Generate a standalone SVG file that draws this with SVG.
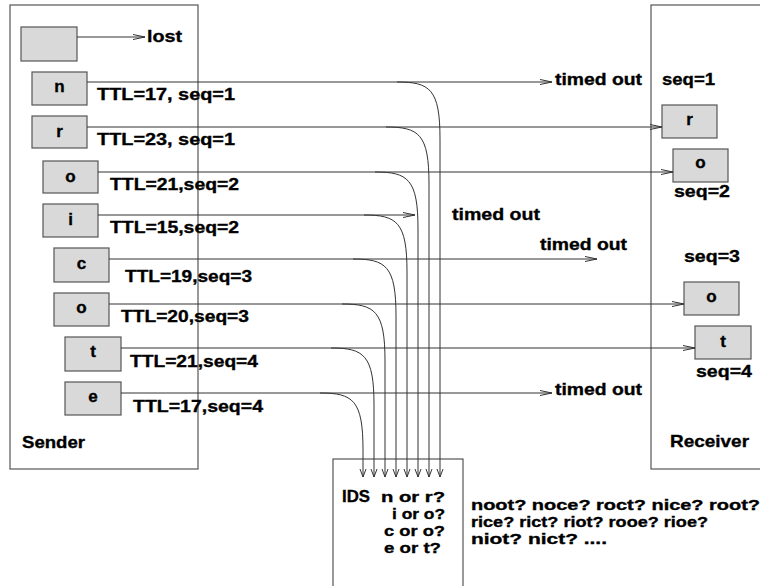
<svg xmlns="http://www.w3.org/2000/svg" width="760" height="586" viewBox="0 0 760 586">
<style>
text{font-family:"Liberation Sans",Arial,sans-serif;font-weight:bold;font-size:17px;fill:#000;stroke:#000;stroke-width:0.35}
.sm{font-size:15px}
.frame{fill:none;stroke:#555;stroke-width:1.2}
.pkt{fill:#d9d9d9;stroke:#555;stroke-width:1.2}
.c{text-anchor:middle}
.ln{fill:none;stroke:#333;stroke-width:1}
.h{marker-end:url(#arr)}
.v{marker-end:url(#arrv)}
</style>
<defs>
<marker id="arr" viewBox="0 0 12 8" refX="12" refY="4" markerWidth="12" markerHeight="8" markerUnits="userSpaceOnUse" orient="auto">
<path d="M0,1.5 L12,4 L0,6.5" fill="none" stroke="#333" stroke-width="1"/>
</marker>
<marker id="arrv" viewBox="0 0 8 8" refX="8" refY="4" markerWidth="8" markerHeight="8" markerUnits="userSpaceOnUse" orient="auto">
<path d="M0,1 L8,4 L0,7" fill="none" stroke="#333" stroke-width="1"/>
</marker>
</defs>

<g id="sender">
<rect class="frame" x="10" y="5" width="188" height="464"/>
<text x="22" y="448" textLength="63" lengthAdjust="spacingAndGlyphs">Sender</text>
</g>
<g id="receiver">
<rect class="frame" x="651" y="5" width="130" height="464"/>
<text x="670" y="447" textLength="79" lengthAdjust="spacingAndGlyphs">Receiver</text>
<text x="662" y="85" textLength="53" lengthAdjust="spacingAndGlyphs">seq=1</text>
<text x="674" y="197" textLength="56" lengthAdjust="spacingAndGlyphs">seq=2</text>
<text x="684" y="262" textLength="56" lengthAdjust="spacingAndGlyphs">seq=3</text>
<text x="696" y="377" textLength="56" lengthAdjust="spacingAndGlyphs">seq=4</text>
</g>
<g id="ids">
<rect class="frame" x="333" y="459" width="130" height="140"/>
<text x="342" y="502" textLength="28" lengthAdjust="spacingAndGlyphs">IDS</text>
<text class="sm" x="381" y="502" textLength="64" lengthAdjust="spacingAndGlyphs">n or r?</text>
<text class="sm" x="392" y="519" textLength="53" lengthAdjust="spacingAndGlyphs">i or o?</text>
<text class="sm" x="384" y="536" textLength="61" lengthAdjust="spacingAndGlyphs">c or o?</text>
<text class="sm" x="384" y="553" textLength="57" lengthAdjust="spacingAndGlyphs">e or t?</text>
</g>
<g id="guesses">
<text class="sm" x="471" y="510" textLength="289" lengthAdjust="spacingAndGlyphs">noot? noce? roct? nice? root?</text>
<text class="sm" x="471" y="527" textLength="237" lengthAdjust="spacingAndGlyphs">rice? rict? riot? rooe? rioe?</text>
<text class="sm" x="471" y="544" textLength="136" lengthAdjust="spacingAndGlyphs">niot? nict? ....</text>
</g>

<g id="pkt-lost"><rect class="pkt" x="21" y="27" width="56" height="34"/></g>
<g id="pkt-n"><rect class="pkt" x="32" y="72" width="55" height="33"/><text class="c" x="59.5" y="92">n</text>
<text x="97" y="100" textLength="138" lengthAdjust="spacingAndGlyphs">TTL=17, seq=1</text></g>
<g id="pkt-r"><rect class="pkt" x="32" y="116" width="55" height="32"/><text class="c" x="59.5" y="137">r</text>
<text x="97" y="145" textLength="138" lengthAdjust="spacingAndGlyphs">TTL=23, seq=1</text></g>
<g id="pkt-o1"><rect class="pkt" x="43" y="161" width="55" height="32"/><text class="c" x="70.5" y="182">o</text>
<text x="110" y="190" textLength="129" lengthAdjust="spacingAndGlyphs">TTL=21,seq=2</text></g>
<g id="pkt-i"><rect class="pkt" x="43" y="204" width="55" height="33"/><text class="c" x="70.5" y="225">i</text>
<text x="110" y="233" textLength="129" lengthAdjust="spacingAndGlyphs">TTL=15,seq=2</text></g>
<g id="pkt-c"><rect class="pkt" x="54" y="248" width="55" height="34"/><text class="c" x="81.5" y="269">c</text>
<text x="125" y="282" textLength="127" lengthAdjust="spacingAndGlyphs">TTL=19,seq=3</text></g>
<g id="pkt-o2"><rect class="pkt" x="54" y="293" width="55" height="33"/><text class="c" x="81.5" y="313">o</text>
<text x="121" y="322" textLength="128" lengthAdjust="spacingAndGlyphs">TTL=20,seq=3</text></g>
<g id="pkt-t"><rect class="pkt" x="65" y="337" width="56" height="34"/><text class="c" x="93" y="357">t</text>
<text x="130" y="367" textLength="128" lengthAdjust="spacingAndGlyphs">TTL=21,seq=4</text></g>
<g id="pkt-e"><rect class="pkt" x="65" y="382" width="56" height="33"/><text class="c" x="93" y="402">e</text>
<text x="133" y="412" textLength="130" lengthAdjust="spacingAndGlyphs">TTL=17,seq=4</text></g>

<g id="recv-r"><rect class="pkt" x="662" y="105" width="55" height="33"/><text class="c" x="689.5" y="125">r</text></g>
<g id="recv-o1"><rect class="pkt" x="673" y="149" width="55" height="33"/><text class="c" x="700.5" y="168">o</text></g>
<g id="recv-o2"><rect class="pkt" x="684" y="282" width="55" height="33"/><text class="c" x="711.5" y="302">o</text></g>
<g id="recv-t"><rect class="pkt" x="695" y="326" width="56" height="33"/><text class="c" x="723" y="347">t</text></g>

<g id="lbl-lost"><text x="147" y="42" textLength="35" lengthAdjust="spacingAndGlyphs">lost</text></g>
<g id="lbl-timeout-n"><text x="555" y="85" textLength="87" lengthAdjust="spacingAndGlyphs">timed out</text></g>
<g id="lbl-timeout-i"><text x="452" y="220" textLength="88" lengthAdjust="spacingAndGlyphs">timed out</text></g>
<g id="lbl-timeout-c"><text x="540" y="250" textLength="87" lengthAdjust="spacingAndGlyphs">timed out</text></g>
<g id="lbl-timeout-e"><text x="555" y="395" textLength="87" lengthAdjust="spacingAndGlyphs">timed out</text></g>

<g id="connectors">
<path class="ln h" d="M77,37 H145"/>
<path class="ln h" d="M87,82 H552"/>
<path class="ln h" d="M87,127 H662"/>
<path class="ln h" d="M98,172 H673"/>
<path class="ln h" d="M98,215 H415"/>
<path class="ln h" d="M109,259 H597"/>
<path class="ln h" d="M109,304 H684"/>
<path class="ln h" d="M121,348 H695"/>
<path class="ln h" d="M121,393 H552"/>
<path class="ln v" d="M397,82 C430,82 440,89 440,139 V477"/>
<path class="ln v" d="M386,127 C419,127 429,134 429,184 V477"/>
<path class="ln v" d="M375,172 C408,172 418,179 418,229 V477"/>
<path class="ln v" d="M364,215 C397,215 407,222 407,272 V477"/>
<path class="ln v" d="M353,259 C386,259 396,266 396,316 V477"/>
<path class="ln v" d="M342,304 C375,304 385,311 385,361 V477"/>
<path class="ln v" d="M331,348 C364,348 374,355 374,405 V477"/>
<path class="ln v" d="M320,393 C353,393 363,400 363,450 V477"/>
</g>
</svg>
